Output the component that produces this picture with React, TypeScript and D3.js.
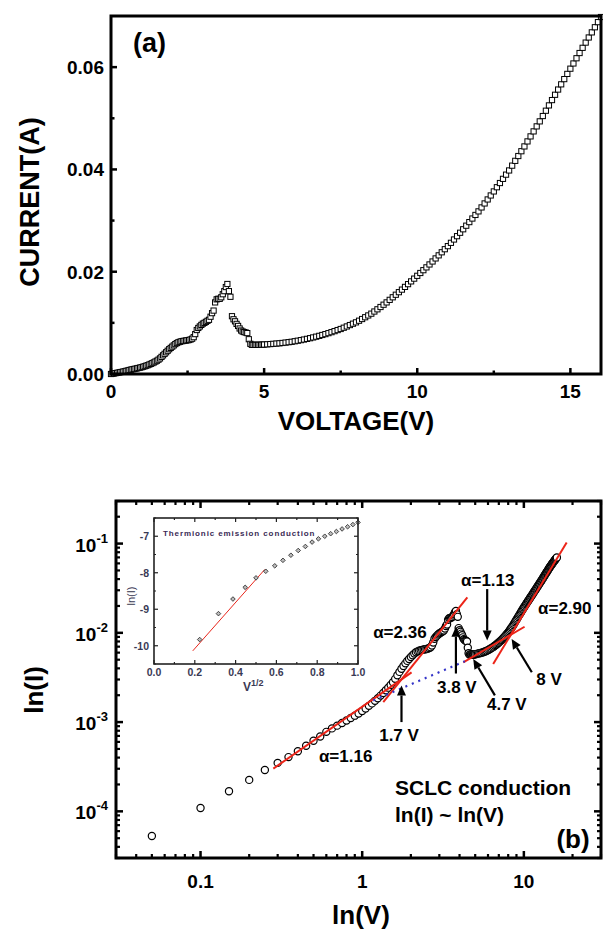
import React from 'react';
import * as d3 from 'd3';

// ---------- DATA (voltage V, current A) ----------
const sweepLow: [number, number][] = [
  [0.0, 0], [0.05, 5.3e-5], [0.1, 1.09e-4], [0.15, 1.68e-4], [0.2, 2.25e-4], [0.25, 2.9e-4],
  [0.3, 3.49e-4], [0.35, 4.05e-4], [0.4, 4.71e-4], [0.45, 5.42e-4], [0.5, 6.17e-4],
  [0.55, 6.89e-4], [0.6, 7.77e-4], [0.65, 8.5e-4], [0.7, 9.12e-4], [0.75, 9.78e-4],
  [0.8, 1.04e-3], [0.85, 1.11e-3], [0.9, 1.18e-3], [0.95, 1.25e-3], [1.0, 1.33e-3],
];
const sweepMid: [number, number][] = [
  [1.05, 1.42e-3], [1.1, 1.52e-3], [1.15, 1.62e-3], [1.2, 1.73e-3], [1.25, 1.85e-3],
  [1.3, 1.98e-3], [1.35, 2.12e-3], [1.4, 2.27e-3], [1.45, 2.43e-3], [1.5, 2.6e-3],
  [1.55, 2.8e-3], [1.6, 3.05e-3], [1.65, 3.35e-3], [1.7, 3.65e-3], [1.75, 3.95e-3],
  [1.8, 4.25e-3], [1.85, 4.55e-3], [1.9, 4.85e-3], [1.95, 5.1e-3], [2.0, 5.35e-3],
  [2.05, 5.6e-3], [2.1, 5.85e-3], [2.15, 6.05e-3], [2.2, 6.2e-3], [2.25, 6.3e-3],
  [2.3, 6.4e-3], [2.35, 6.45e-3], [2.4, 6.5e-3], [2.45, 6.55e-3], [2.5, 6.6e-3],
  [2.55, 6.65e-3], [2.6, 6.75e-3], [2.65, 6.9e-3], [2.7, 7.2e-3], [2.75, 7.8e-3],
  [2.8, 8.6e-3], [2.85, 9.0e-3], [2.9, 9.3e-3], [2.95, 9.6e-3], [3.0, 9.85e-3],
  [3.05, 1.0e-2], [3.1, 1.02e-2], [3.15, 1.04e-2], [3.2, 1.06e-2], [3.25, 1.12e-2],
  [3.3, 1.19e-2], [3.35, 1.24e-2], [3.4, 1.4e-2], [3.45, 1.46e-2], [3.5, 1.47e-2],
  [3.55, 1.47e-2], [3.6, 1.5e-2], [3.65, 1.56e-2], [3.7, 1.62e-2], [3.75, 1.7e-2],
  [3.8, 1.76e-2], [3.85, 1.62e-2], [3.9, 1.51e-2], [3.95, 1.13e-2], [4.0, 1.07e-2],
  [4.05, 1.03e-2], [4.1, 9.8e-3], [4.15, 9.4e-3], [4.2, 8.9e-3], [4.25, 8.5e-3],
  [4.3, 8.3e-3], [4.35, 8.2e-3], [4.4, 8.1e-3], [4.45, 8.0e-3], [4.5, 6.8e-3],
  [4.55, 5.9e-3], [4.6, 5.7e-3], [4.65, 5.7e-3], [4.7, 5.7e-3], [4.75, 5.7e-3],
  [4.8, 5.7e-3], [4.85, 5.7e-3], [4.9, 5.72e-3], [4.95, 5.74e-3], [5.0, 5.76e-3],
];
const sweepHigh: [number, number][] = [
  [5.1, 0.0058], [5.2, 0.00585], [5.3, 0.0059], [5.4, 0.00595], [5.5, 0.006],
  [5.6, 0.00607], [5.7, 0.00614], [5.8, 0.00622], [5.9, 0.0063], [6.0, 0.0064],
  [6.1, 0.00651], [6.2, 0.00662], [6.3, 0.00674], [6.4, 0.00687], [6.5, 0.007],
  [6.6, 0.00715], [6.7, 0.0073], [6.8, 0.00746], [6.9, 0.00763], [7.0, 0.0078],
  [7.1, 0.00799], [7.2, 0.00818], [7.3, 0.00838], [7.4, 0.00859], [7.5, 0.0088],
  [7.6, 0.00905], [7.7, 0.0093], [7.8, 0.00957], [7.9, 0.00984], [8.0, 0.0101],
  [8.1, 0.01042], [8.2, 0.01075], [8.3, 0.0111], [8.4, 0.01145], [8.5, 0.0118],
  [8.6, 0.01222], [8.7, 0.01265], [8.8, 0.0131], [8.9, 0.01355], [9.0, 0.014],
  [9.1, 0.0145], [9.2, 0.015], [9.3, 0.0155], [9.4, 0.016], [9.5, 0.0165],
  [9.6, 0.01703], [9.7, 0.01757], [9.8, 0.01811], [9.9, 0.01865], [10.0, 0.0192],
  [10.1, 0.01975], [10.2, 0.0203], [10.3, 0.02085], [10.4, 0.02142], [10.5, 0.022],
  [10.6, 0.0226], [10.7, 0.0232], [10.8, 0.0238], [10.9, 0.0244], [11.0, 0.025],
  [11.1, 0.02565], [11.2, 0.0263], [11.3, 0.02695], [11.4, 0.02762], [11.5, 0.0283],
  [11.6, 0.029], [11.7, 0.0297], [11.8, 0.0304], [11.9, 0.0311], [12.0, 0.0318],
  [12.1, 0.03257], [12.2, 0.03335], [12.3, 0.03413], [12.4, 0.03491], [12.5, 0.0357],
  [12.6, 0.03652], [12.7, 0.03734], [12.8, 0.03816], [12.9, 0.03898], [13.0, 0.0398],
  [13.1, 0.04074], [13.2, 0.04168], [13.3, 0.04262], [13.4, 0.04356], [13.5, 0.0445],
  [13.6, 0.04548], [13.7, 0.04646], [13.8, 0.04744], [13.9, 0.04842], [14.0, 0.0494],
  [14.1, 0.05044], [14.2, 0.05148], [14.3, 0.05252], [14.4, 0.05356], [14.5, 0.0546],
  [14.6, 0.05562], [14.7, 0.05664], [14.8, 0.05766], [14.9, 0.05868], [15.0, 0.0597],
  [15.1, 0.06072], [15.2, 0.06174], [15.3, 0.06276], [15.4, 0.06378], [15.5, 0.0648],
  [15.6, 0.0658], [15.7, 0.0668], [15.8, 0.0678], [15.9, 0.0688], [16.0, 0.0698],
];

// inset: sqrt(V), ln(I)
const insetPoints: [number, number][] = [
  [0.224, -9.83], [0.316, -9.12], [0.387, -8.72], [0.447, -8.4], [0.5, -8.14],
  [0.548, -7.96], [0.592, -7.81], [0.632, -7.66], [0.671, -7.52], [0.707, -7.39],
  [0.742, -7.28], [0.775, -7.16], [0.806, -7.07], [0.837, -7.0], [0.866, -6.93],
  [0.894, -6.87], [0.922, -6.8], [0.949, -6.74], [0.975, -6.68], [1.0, -6.62],
];
const insetFit: [number, number][] = [[0.19, -10.14], [0.543, -7.91]];

// fits on log-log panel: [V, I]
const fitLines: [number, number][][] = [
  [[0.282, 3.01e-4], [2.02, 3.6e-3]],
  [[1.35, 1.67e-3], [4.47, 0.0249]],
  [[4.22, 4.68e-3], [10.1, 0.0117]],
  [[6.46, 4.48e-3], [18.4, 0.1026]],
];
const dottedLine: [number, number][] = [[1.17, 1.75e-3], [4.31, 4.8e-3]];

// arrows: tail -> tip
const arrows: [number, number][][] = [
  [[1.75, 1.0e-3], [1.75, 2.57e-3]],
  [[3.8, 3.5e-3], [3.8, 0.0117]],
  [[6.62, 1.99e-3], [4.86, 5.1e-3]],
  [[11.2, 3.62e-3], [8.4, 8.55e-3]],
  [[5.93, 0.0309], [5.93, 8.18e-3]],
];
const annotations: { text: string; v: number; i: number }[] = [
  { text: '1.7 V', v: 1.69, i: 6.1e-4 },
  { text: '3.8 V', v: 3.85, i: 2.1e-3 },
  { text: '4.7 V', v: 7.85, i: 1.35e-3 },
  { text: '8 V', v: 14.3, i: 2.57e-3 },
  { text: 'α=1.13', v: 5.98, i: 0.0337 },
  { text: 'α=2.36', v: 1.71, i: 8.83e-3 },
  { text: 'α=2.90', v: 17.9, i: 0.0164 },
  { text: 'α=1.16', v: 0.79, i: 3.55e-4 },
];

// ticks
const topXTicks = [0, 5, 10, 15];
const topXMinor = [2.5, 7.5, 12.5];
const topYTicks = [0, 0.02, 0.04, 0.06];
const topYMinor = [0.01, 0.03, 0.05];
const logXTicks = [0.1, 1, 10];
const logXLabels = ['0.1', '1', '10'];
const logYTicks = [1e-4, 1e-3, 1e-2, 1e-1];
const logYExp = ['-4', '-3', '-2', '-1'];
const insetXTicks = [0, 0.2, 0.4, 0.6, 0.8, 1.0];
const insetXMinor = [0.1, 0.3, 0.5, 0.7, 0.9];
const insetYTicks = [-10, -9, -8, -7];
const insetYMinor = [-10.5, -9.5, -8.5, -7.5, -6.5];

const FONT = '"Liberation Sans", Arial, Helvetica, sans-serif';

export default function App() {
  const sweep = [...sweepLow, ...sweepMid, ...sweepHigh];
  const logSweep = sweep.filter((d) => d[0] > 0);

  // top panel scales
  const tx = d3.scaleLinear().domain([0, 16]).range([111, 601]);
  const ty = d3.scaleLinear().domain([0, 0.07]).range([374, 16]);
  // bottom panel scales
  const bx = d3.scaleLog().domain([0.03, 30]).range([116, 601]);
  const by = d3.scaleLog().domain([3e-5, 0.3]).range([858, 501]);
  // inset scales
  const ix = d3.scaleLinear().domain([0, 1]).range([154, 358]);
  const iy = d3.scaleLinear().domain([-10.5, -6.5]).range([664, 518]);

  const bxMinor = bx.ticks().filter((t) => !logXTicks.some((m) => Math.abs(m - t) / t < 1e-6));
  const byMinor = by.ticks().filter((t) => !logYTicks.some((m) => Math.abs(m - t) / t < 1e-6));

  const [bxa, bxb] = bx.range();
  const [bya, byb] = by.range();
  const [txa, txb] = tx.range();
  const [tya, tyb] = ty.range();
  const [ixa, ixb] = ix.range();
  const [iya, iyb] = iy.range();

  const arrowHead = (x1: number, y1: number, x2: number, y2: number, len = 10, hw = 4.5) => {
    const a = Math.atan2(y2 - y1, x2 - x1);
    const bx0 = x2 - len * Math.cos(a);
    const by0 = y2 - len * Math.sin(a);
    const px = -Math.sin(a) * hw;
    const py = Math.cos(a) * hw;
    return { path: `M${x2},${y2}L${bx0 + px},${by0 + py}L${bx0 - px},${by0 - py}Z`, bx0, by0 };
  };

  return (
    <svg width={603} height={931} style={{ position: 'absolute', left: 0, top: 0, background: '#fff' }} fontFamily={FONT}>
      <rect x={0} y={0} width={603} height={931} fill="#fff" />
      {/* ================= TOP PANEL ================= */}
      <g>
        {sweep.map((d, k) => (
          <rect key={k} x={tx(d[0]) - 2.6} y={ty(d[1]) - 2.6} width={5.2} height={5.2} fill="#fff" stroke="#000" strokeWidth={1} />
        ))}
        {topXTicks.map((t) => (
          <g key={'tx' + t}>
            <line x1={tx(t)} x2={tx(t)} y1={tya} y2={tya - 6} stroke="#000" strokeWidth={2.5} />
            <text x={tx(t)} y={398} textAnchor="middle" fontSize={19} fontWeight="bold">{t}</text>
          </g>
        ))}
        {topXMinor.map((t) => (
          <line key={'txm' + t} x1={tx(t)} x2={tx(t)} y1={tya} y2={tya - 3.5} stroke="#000" strokeWidth={2.5} />
        ))}
        {topYTicks.map((t) => (
          <g key={'ty' + t}>
            <line x1={txa} x2={txa + 6} y1={ty(t)} y2={ty(t)} stroke="#000" strokeWidth={2.5} />
            <text x={104} y={ty(t) + 7} textAnchor="end" fontSize={19} fontWeight="bold">{t.toFixed(2)}</text>
          </g>
        ))}
        {topYMinor.map((t) => (
          <line key={'tym' + t} x1={txa} x2={txa + 3.5} y1={ty(t)} y2={ty(t)} stroke="#000" strokeWidth={2.5} />
        ))}
        <rect x={txa} y={tyb} width={txb - txa} height={tya - tyb} fill="none" stroke="#000" strokeWidth={3} />
        <text x={133} y={52} fontSize={27} fontWeight="bold">(a)</text>
        <text x={356} y={430} textAnchor="middle" fontSize={26} fontWeight="bold">VOLTAGE(V)</text>
        <text transform="translate(39,202) rotate(-90)" textAnchor="middle" fontSize={27} fontWeight="bold">CURRENT(A)</text>
      </g>

      {/* ================= BOTTOM PANEL ================= */}
      <g>
        {logSweep.map((d, k) => (
          <circle key={k} cx={bx(d[0])} cy={by(d[1])} r={3.6} fill="#fff" stroke="#000" strokeWidth={1.2} />
        ))}
        {fitLines.map((l, k) => (
          <line key={'fit' + k} x1={bx(l[0][0])} y1={by(l[0][1])} x2={bx(l[1][0])} y2={by(l[1][1])} stroke="#ec2418" strokeWidth={2} />
        ))}
        <line x1={bx(dottedLine[0][0])} y1={by(dottedLine[0][1])} x2={bx(dottedLine[1][0])} y2={by(dottedLine[1][1])}
          stroke="#3434c8" strokeWidth={2.2} strokeDasharray="2 5" />
        {arrows.map((a, k) => {
          const x1 = bx(a[0][0]), y1 = by(a[0][1]), x2 = bx(a[1][0]), y2 = by(a[1][1]);
          const h = arrowHead(x1, y1, x2, y2);
          return (
            <g key={'ar' + k}>
              <line x1={x1} y1={y1} x2={h.bx0} y2={h.by0} stroke="#000" strokeWidth={2.2} />
              <path d={h.path} fill="#000" />
            </g>
          );
        })}
        {annotations.map((a, k) => (
          <text key={'an' + k} x={bx(a.v)} y={by(a.i)} textAnchor="middle" fontSize={17} fontWeight="bold">{a.text}</text>
        ))}

        {/* axes ticks on all sides */}
        {logXTicks.map((t, k) => (
          <g key={'bx' + t}>
            <line x1={bx(t)} x2={bx(t)} y1={bya} y2={bya - 7} stroke="#000" strokeWidth={2.5} />
            <line x1={bx(t)} x2={bx(t)} y1={byb} y2={byb + 7} stroke="#000" strokeWidth={2.5} />
            <text x={bx(t)} y={888} textAnchor="middle" fontSize={19} fontWeight="bold">{logXLabels[k]}</text>
          </g>
        ))}
        {bxMinor.map((t) => (
          <g key={'bxm' + t}>
            <line x1={bx(t)} x2={bx(t)} y1={bya} y2={bya - 4} stroke="#000" strokeWidth={2.2} />
            <line x1={bx(t)} x2={bx(t)} y1={byb} y2={byb + 4} stroke="#000" strokeWidth={2.2} />
          </g>
        ))}
        {logYTicks.map((t, k) => (
          <g key={'by' + t}>
            <line x1={bxa} x2={bxa + 7} y1={by(t)} y2={by(t)} stroke="#000" strokeWidth={2.5} />
            <line x1={bxb} x2={bxb - 7} y1={by(t)} y2={by(t)} stroke="#000" strokeWidth={2.5} />
            <text x={108} y={by(t) + 8} textAnchor="end" fontSize={19} fontWeight="bold">
              10<tspan dy={-9} fontSize={13}>{logYExp[k]}</tspan>
            </text>
          </g>
        ))}
        {byMinor.map((t) => (
          <g key={'bym' + t}>
            <line x1={bxa} x2={bxa + 4} y1={by(t)} y2={by(t)} stroke="#000" strokeWidth={2.2} />
            <line x1={bxb} x2={bxb - 4} y1={by(t)} y2={by(t)} stroke="#000" strokeWidth={2.2} />
          </g>
        ))}
        <rect x={bxa} y={byb} width={bxb - bxa} height={bya - byb} fill="none" stroke="#000" strokeWidth={3} />
        <text x={395} y={795} fontSize={21} fontWeight="bold">SCLC conduction</text>
        <text x={395} y={822} fontSize={21} fontWeight="bold">ln(I) ~ ln(V)</text>
        <text x={573} y={848} textAnchor="middle" fontSize={26} fontWeight="bold">(b)</text>
        <text x={361} y={924} textAnchor="middle" fontSize={26} fontWeight="bold">ln(V)</text>
        <text transform="translate(43,690) rotate(-90)" textAnchor="middle" fontSize={26} fontWeight="bold">ln(I)</text>
      </g>

      {/* ================= INSET ================= */}
      <g>
        <rect x={ixa} y={iyb} width={ixb - ixa} height={iya - iyb} fill="#fff" stroke="none" />
        {insetXTicks.map((t) => (
          <g key={'ix' + t}>
            <line x1={ix(t)} x2={ix(t)} y1={iya} y2={iya - 4} stroke="#222" strokeWidth={1.2} />
            <line x1={ix(t)} x2={ix(t)} y1={iyb} y2={iyb + 4} stroke="#222" strokeWidth={1.2} />
            <text x={ix(t)} y={676} textAnchor="middle" fontSize={10.5} fontWeight="bold" fill="#3a3a55">{t.toFixed(1)}</text>
          </g>
        ))}
        {insetXMinor.map((t) => (
          <g key={'ixm' + t}>
            <line x1={ix(t)} x2={ix(t)} y1={iya} y2={iya - 2} stroke="#222" strokeWidth={1.2} />
            <line x1={ix(t)} x2={ix(t)} y1={iyb} y2={iyb + 2} stroke="#222" strokeWidth={1.2} />
          </g>
        ))}
        {insetYTicks.map((t) => (
          <g key={'iy' + t}>
            <line x1={ixa} x2={ixa + 4} y1={iy(t)} y2={iy(t)} stroke="#222" strokeWidth={1.2} />
            <line x1={ixb} x2={ixb - 4} y1={iy(t)} y2={iy(t)} stroke="#222" strokeWidth={1.2} />
            <text x={149} y={iy(t) + 4} textAnchor="end" fontSize={10.5} fontWeight="bold" fill="#3a3a55">{t}</text>
          </g>
        ))}
        {insetYMinor.map((t) => (
          <g key={'iym' + t}>
            <line x1={ixa} x2={ixa + 2} y1={iy(t)} y2={iy(t)} stroke="#222" strokeWidth={1.2} />
            <line x1={ixb} x2={ixb - 2} y1={iy(t)} y2={iy(t)} stroke="#222" strokeWidth={1.2} />
          </g>
        ))}
        <line x1={ix(insetFit[0][0])} y1={iy(insetFit[0][1])} x2={ix(insetFit[1][0])} y2={iy(insetFit[1][1])} stroke="#e8261c" strokeWidth={1} />
        {insetPoints.map((d, k) => {
          const x = ix(d[0]), y = iy(d[1]);
          return <path key={'ip' + k} d={`M${x},${y - 2.3}L${x + 2.3},${y}L${x},${y + 2.3}L${x - 2.3},${y}Z`} fill="#bbb" stroke="#333" strokeWidth={0.9} />;
        })}
        <rect x={ixa} y={iyb} width={ixb - ixa} height={iya - iyb} fill="none" stroke="#222" strokeWidth={1.6} />
        <text x={163} y={536} fontSize={8} fontWeight="bold" fill="#3a2a55" letterSpacing={0.9}>Thermionic emission conduction</text>
        <text transform="translate(135,596) rotate(-90)" textAnchor="middle" fontSize={11} fill="#3a3a55">ln(I)</text>
        <text x={243} y={691} fontSize={12} fontWeight="bold" fill="#3a3a55">V<tspan dy={-5} fontSize={9}>1/2</tspan></text>
      </g>
    </svg>
  );
}
